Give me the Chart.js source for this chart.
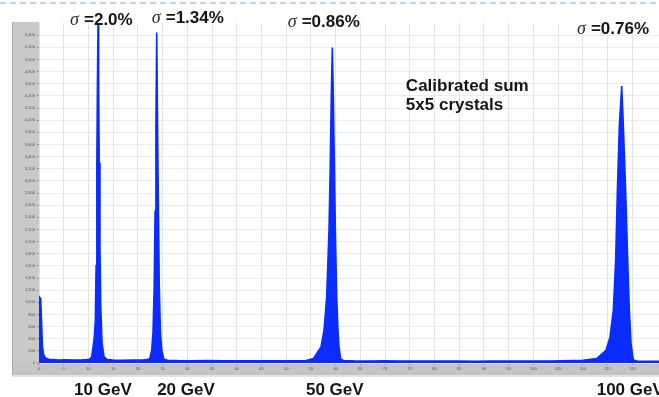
<!DOCTYPE html>
<html>
<head>
<meta charset="utf-8">
<script src="https://cdn.jsdelivr.net/npm/chart.js@4/dist/chart.umd.min.js"></script>
<style>
  html, body { margin: 0; padding: 0; background: #ffffff; }
  #wrap { position: relative; width: 659px; height: 397px; }
</style>
</head>
<body>
<div id="wrap"><canvas id="c" width="659" height="397"></canvas></div>
<script>
// Calibrated energy sum of a 5x5 crystal matrix: electron beams of 10, 20, 50 and 100 GeV.
// Histogram bin centres (ADC-like axis units) and counts.
const binCentres = [
  0.0, 0.15, 0.35, 0.55, 0.7, 0.95, 1.4, 2.0, 3.0, 4.0, 5.5, 7.0, 8.5, 9.5, 10.2,
  10.66, 11.13, 11.4, 11.55, 11.7, 11.82, 11.94, 12.06, 12.18, 12.33, 12.5, 12.75, 13.15,
  13.8, 15.0, 17.0, 19.0, 21.0, 22.0,
  22.4, 22.8, 23.06, 23.3, 23.48, 23.65, 23.81, 23.96, 24.13, 24.32, 24.55, 24.82, 25.28,
  26.0, 28.0, 31.0, 34.0, 37.0, 40.0, 43.0, 46.0, 49.0, 52.0, 54.0,
  55.5, 57.04, 57.65, 58.19, 58.66, 58.92, 59.12, 59.33, 59.53, 59.73, 59.94, 60.21, 60.47, 60.67, 61.0,
  61.6, 64.0, 67.0, 70.0, 73.0, 76.0, 79.0, 82.0, 85.0, 88.0, 91.0, 94.0, 97.0, 100.0, 103.0, 106.0, 108.0, 110.0,
  112.8, 114.69, 115.5, 116.17, 116.64, 116.97, 117.38, 117.86, 118.19, 118.67, 119.07, 119.4, 119.74, 120.2,
  121.0, 123.0, 125.4
];
const counts = [
  0, 1080, 1060, 600, 265, 130, 80, 60, 55, 50, 52, 48, 50, 55, 60,
  100, 375, 700, 1600, 3300, 4600, 5580, 4600, 3300, 1900, 900, 330, 100,
  55, 48, 45, 47, 50, 60,
  70, 210, 500, 1250, 2500, 3900, 5445, 4100, 2700, 1300, 520, 210, 60,
  45, 40, 38, 40, 36, 38, 35, 37, 35, 38, 42,
  73, 264, 540, 1091, 2193, 3296, 4397, 5197, 4397, 3296, 2193, 1091, 540, 264, 73,
  40, 34, 33, 35, 32, 33, 31, 33, 32, 30, 32, 31, 33, 32, 34, 36, 40, 45,
  73, 210, 430, 871, 1698, 2800, 3901, 4562, 3901, 2800, 1698, 871, 320, 50,
  32, 30, 30
];

// Axis ticks
const xTickStep = 5;
const yTickStep = 200;
const yTopLabel = 5400;

// Annotations
const sigmaTexts = ['2.0%', '1.34%', '0.86%', '0.76%'];
const beamLabels = ['10 GeV', '20 GeV', '50 GeV', '100 GeV'];
const noteLines = ['Calibrated sum', '5x5 crystals'];

const points = binCentres.map((x, i) => ({ x: x, y: counts[i] }));

// placement of the text blocks (x in axis units, y in canvas pixels)
const sigmaPlace = [
  { x: 6.27, y: 25 }, { x: 22.8, y: 22.5 }, { x: 50.3, y: 26.5 }, { x: 108.8, y: 34 }
];
const beamPlace = [{ x: 7.1 }, { x: 23.9 }, { x: 54.0 }, { x: 112.8 }];
const notePlace = { x: 74.2, y: [90.5, 110] };

const framePlugin = {
  id: 'frame',
  beforeDraw(chart) {
    const ctx = chart.ctx;
    const ys = chart.scales.y, xs = chart.scales.x;
    ctx.save();
    // grey axis panels
    ctx.fillStyle = '#c9c9c9';
    ctx.fillRect(ys.left, chart.chartArea.top - 1, ys.right - ys.left, xs.bottom - chart.chartArea.top + 1);
    ctx.fillStyle = '#c4c4c4';
    ctx.fillRect(ys.left, xs.top, xs.right - ys.left, xs.bottom - xs.top);
    ctx.fillStyle = '#aaaaaa';
    ctx.fillRect(ys.left, chart.chartArea.top - 1, 1, xs.bottom - chart.chartArea.top + 1);
    ctx.fillStyle = '#e2e2e2';
    ctx.fillRect(ys.left, xs.bottom, xs.right - ys.left, 2);
    // dashed rule along the top
    ctx.strokeStyle = '#bcd4ea';
    ctx.lineWidth = 2;
    ctx.setLineDash([6, 4]);
    ctx.beginPath();
    ctx.moveTo(0, 3);
    ctx.lineTo(chart.width, 3);
    ctx.stroke();
    ctx.restore();
  },
  afterDraw(chart) {
    const ctx = chart.ctx;
    const xs = chart.scales.x;
    ctx.save();
    ctx.textBaseline = 'alphabetic';
    ctx.textAlign = 'left';
    const bold = 'bold 17px "Liberation Sans", Arial, sans-serif';
    sigmaTexts.forEach((t, i) => {
      const px = xs.getPixelForValue(sigmaPlace[i].x);
      const py = sigmaPlace[i].y;
      ctx.font = 'italic 18px "Liberation Serif", "Times New Roman", serif';
      ctx.fillStyle = '#2a2a2a';
      ctx.fillText('\u03C3', px, py);
      ctx.font = bold;
      ctx.fillStyle = '#151515';
      ctx.fillText('=' + t, px + 14, py);
    });
    ctx.font = bold;
    ctx.fillStyle = '#151515';
    beamLabels.forEach((t, i) => {
      ctx.fillText(t, xs.getPixelForValue(beamPlace[i].x), 395);
    });
    noteLines.forEach((t, i) => {
      ctx.fillText(t, xs.getPixelForValue(notePlace.x), notePlace.y[i]);
    });
    ctx.restore();
  }
};

new Chart(document.getElementById('c'), {
  type: 'line',
  data: {
    datasets: [{
      data: points,
      borderColor: '#0a2cff',
      backgroundColor: '#0a2cff',
      borderWidth: 1.6,
      pointRadius: 0,
      tension: 0,
      fill: 'origin'
    }]
  },
  options: {
    responsive: false,
    animation: false,
    events: [],
    layout: { padding: { left: 12, top: 23, right: 0, bottom: 22 } },
    plugins: { legend: { display: false }, tooltip: { enabled: false } },
    scales: {
      x: {
        type: 'linear',
        min: 0,
        max: binCentres[binCentres.length - 1],
        border: { display: false },
        grid: { color: '#e3e3e3', lineWidth: 1, drawTicks: true, tickLength: 2, tickColor: '#8a8a8a' },
        ticks: { stepSize: xTickStep, autoSkip: false, maxRotation: 0, padding: 1,
                 font: { size: 4, family: 'Arial, sans-serif' }, color: '#555555' },
        afterBuildTicks(s) { s.ticks = s.ticks.filter(t => t.value % xTickStep === 0); },
        afterFit(s) { s.height = 12; }
      },
      y: {
        min: 0,
        max: 5600,
        border: { display: false },
        grid: { color: '#ebebeb', lineWidth: 1, drawTicks: true, tickLength: 2, tickColor: '#8a8a8a' },
        ticks: { stepSize: yTickStep, autoSkip: false, padding: 2,
                 font: { size: 4, family: 'Arial, sans-serif' }, color: '#555555' },
        afterBuildTicks(s) { s.ticks = s.ticks.filter(t => t.value <= yTopLabel); },
        afterFit(s) { s.width = 27; }
      }
    }
  },
  plugins: [framePlugin]
});
</script>
</body>
</html>
